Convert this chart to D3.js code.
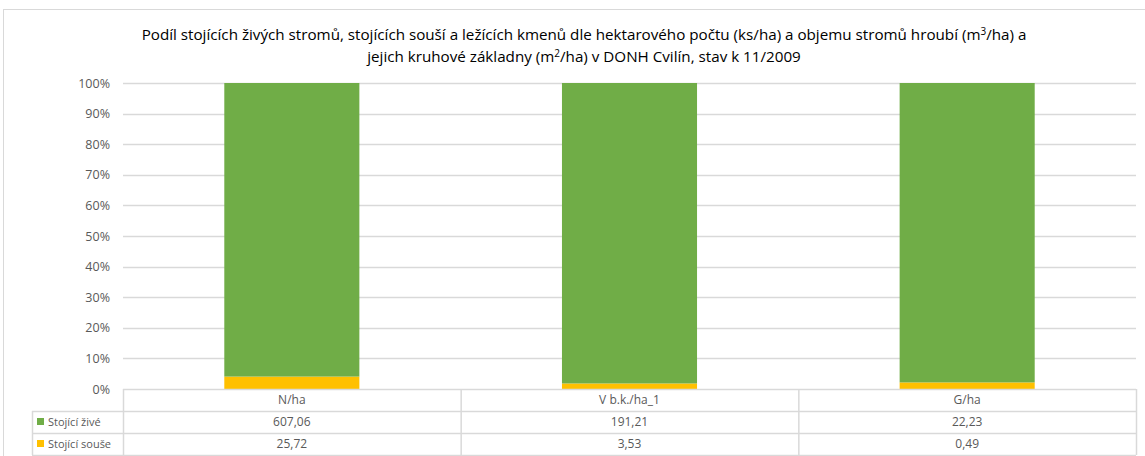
<!DOCTYPE html>
<html>
<head>
<meta charset="utf-8">
<script src="https://cdn.jsdelivr.net/npm/d3@7"></script>
<style>
  body { margin: 0; background: #fff; }
  svg { display: block; font-family: "Open Sans", "Noto Sans", sans-serif; }
</style>
</head>
<body>
<svg id="chart" width="1145" height="456"></svg>
<script>
const categories = ['N/ha', 'V b.k./ha_1', 'G/ha'];
const seriesNames = ['Stojící živé', 'Stojící souše'];
const stojiciZive = [607.06, 191.21, 22.23];
const stojiciSouse = [25.72, 3.53, 0.49];
const seriesColors = ['#70AD47', '#FFC000'];
const yTicks = [0, 0.1, 0.2, 0.3, 0.4, 0.5, 0.6, 0.7, 0.8, 0.9, 1];

const svg = d3.select('#chart');
const plot = { left: 123, right: 1136, top: 83, bottom: 389 };
const rowH = 22;
const legendLeft = 32;

// outer chart frame
svg.append('rect')
    .attr('x', 3.5).attr('y', 9.5)
    .attr('width', 1150).attr('height', 460)
    .attr('fill', '#fff').attr('stroke', '#d9d9d9');

// title
const title = svg.append('text')
    .attr('text-anchor', 'middle')
    .attr('fill', '#000')
    .style('font-size', '15.2px');
const t1 = title.append('tspan').attr('x', 584).attr('y', 40);
t1.append('tspan').text('Podíl stojících živých stromů, stojících souší a ležících kmenů dle hektarového počtu (ks/ha) a objemu stromů hroubí (m');
t1.append('tspan').attr('dy', -5).style('font-size', '10px').text('3');
t1.append('tspan').attr('dy', 5).text('/ha) a');
const t2 = title.append('tspan').attr('x', 584).attr('y', 62);
t2.append('tspan').text('jejich kruhové základny (m');
t2.append('tspan').attr('dy', -5).style('font-size', '10px').text('2');
t2.append('tspan').attr('dy', 5).text('/ha) v DONH Cvilín, stav k 11/2009');

// data to percentages
const rows = categories.map((c, i) => ({ cat: c, zive: stojiciZive[i], souse: stojiciSouse[i] }));
const stack = d3.stack().keys(['souse', 'zive']).offset(d3.stackOffsetExpand);
const layers = stack(rows);

const x = d3.scaleBand().domain(categories).range([plot.left, plot.right]).paddingInner(0).paddingOuter(0);
const y = d3.scaleLinear().domain([0, 1]).range([plot.bottom, plot.top]);
const barW = x.bandwidth() * 0.4;

// gridlines
svg.append('g')
    .selectAll('line')
    .data(yTicks.filter(d => d > 0))
    .join('line')
    .attr('x1', plot.left).attr('x2', plot.right)
    .attr('y1', d => Math.round(y(d)) + 0.5).attr('y2', d => Math.round(y(d)) + 0.5)
    .attr('stroke', '#d9d9d9').attr('stroke-width', 1.5);

// y axis labels
svg.append('g')
    .selectAll('text')
    .data(yTicks)
    .join('text')
    .attr('x', 110)
    .attr('y', d => y(d) + 4.5)
    .attr('text-anchor', 'end')
    .attr('fill', '#595959')
    .style('font-size', '12.5px')
    .text(d3.format('.0%'));

// bars
const colorByKey = { zive: seriesColors[0], souse: seriesColors[1] };
svg.append('g')
    .selectAll('g')
    .data(layers)
    .join('g')
    .attr('fill', d => colorByKey[d.key])
    .selectAll('rect')
    .data(d => d)
    .join('rect')
    .attr('x', d => x(d.data.cat) + (x.bandwidth() - barW) / 2)
    .attr('width', barW)
    .attr('y', d => y(d[1]))
    .attr('height', d => y(d[0]) - y(d[1]));

// data table
const table = svg.append('g');
const gridColor = '#d9d9d9';
const tableBottom = plot.bottom + rowH * 3;
// horizontal lines
[plot.bottom, plot.bottom + rowH, plot.bottom + rowH * 2, tableBottom].forEach((yy, i) => {
    table.append('line')
        .attr('x1', i === 0 ? plot.left : legendLeft).attr('x2', plot.right)
        .attr('y1', yy + 0.5).attr('y2', yy + 0.5)
        .attr('stroke', gridColor).attr('stroke-width', 1.5);
});
// vertical lines
categories.forEach(c => {
    table.append('line')
        .attr('x1', x(c) + 0.5).attr('x2', x(c) + 0.5)
        .attr('y1', plot.bottom).attr('y2', tableBottom)
        .attr('stroke', gridColor).attr('stroke-width', 1.5);
});
table.append('line')
    .attr('x1', plot.right + 0.5).attr('x2', plot.right + 0.5)
    .attr('y1', plot.bottom).attr('y2', tableBottom)
    .attr('stroke', gridColor).attr('stroke-width', 1.5);
table.append('line')
    .attr('x1', legendLeft + 0.5).attr('x2', legendLeft + 0.5)
    .attr('y1', plot.bottom + rowH).attr('y2', tableBottom)
    .attr('stroke', gridColor).attr('stroke-width', 1.5);

const fmt = v => d3.format('.2f')(v).replace('.', ',');
const cellText = (xx, yy, txt, anchor, size) => table.append('text')
    .attr('x', xx).attr('y', yy)
    .attr('text-anchor', anchor)
    .attr('fill', '#595959')
    .style('font-size', size || '12px')
    .text(txt);

categories.forEach((c, i) => {
    const cx = x(c) + x.bandwidth() / 2;
    cellText(cx, plot.bottom + 15, c, 'middle');
    cellText(cx, plot.bottom + rowH + 15, fmt(stojiciZive[i]), 'middle');
    cellText(cx, plot.bottom + rowH * 2 + 15, fmt(stojiciSouse[i]), 'middle');
});

seriesNames.forEach((name, i) => {
    const ry = plot.bottom + rowH * (i + 1);
    table.append('rect')
        .attr('x', 37).attr('y', ry + 7)
        .attr('width', 7).attr('height', 7)
        .attr('fill', seriesColors[i]);
    cellText(48, ry + 15, name, 'start', '11px');
});
</script>
</body>
</html>
